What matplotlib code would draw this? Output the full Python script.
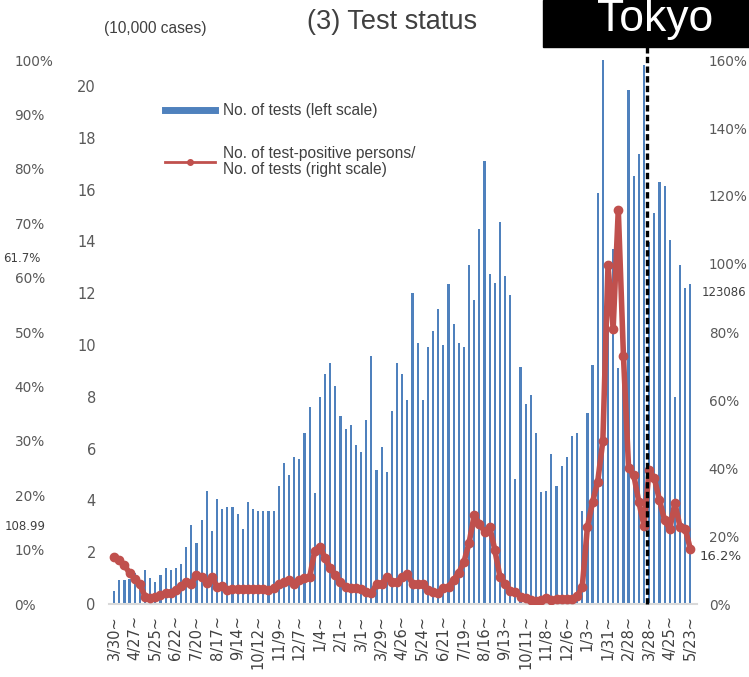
import matplotlib.pyplot as plt
from matplotlib.lines import Line2D
from matplotlib.patches import Rectangle

# week start labels (every 4 weeks), 3/30/2020 .. 5/23/2022
week_labels = ["3/30", "4/27", "5/25", "6/22", "7/20", "8/17", "9/14", "10/12", "11/9",
               "12/7", "1/4", "2/1", "3/1", "3/29", "4/26", "5/24", "6/21", "7/19",
               "8/16", "9/13", "10/11", "11/8", "12/6", "1/3", "1/31", "2/28", "3/28",
               "4/25", "5/23"]

# no. of tests per week (10,000 cases)
tests = [0.50, 0.94, 0.92, 0.95, 1.21, 0.89, 1.30, 1.02, 0.86, 1.12,
         1.38, 1.30, 1.38, 1.56, 2.19, 3.06, 2.35, 3.24, 4.37, 2.80,
         4.05, 3.67, 3.75, 3.75, 3.49, 2.89, 3.92, 3.67, 3.60, 3.60,
         3.60, 3.60, 4.55, 5.43, 4.99, 5.69, 5.60, 6.59, 7.62, 4.29,
         8.00, 8.86, 9.30, 8.43, 7.27, 6.76, 6.92, 6.15, 5.88, 7.10,
         9.57, 5.17, 6.05, 5.08, 7.46, 9.30, 8.86, 7.88, 12.02, 10.08,
         7.88, 9.92, 10.53, 11.40, 10.00, 12.37, 10.79, 10.08, 9.92, 13.08,
         11.75, 14.49, 17.11, 12.73, 12.39, 14.75, 12.65, 11.94, 4.82, 9.14,
         7.72, 8.05, 6.59, 4.31, 4.37, 5.79, 4.56, 5.34, 5.69, 6.50,
         6.59, 3.60, 7.36, 9.21, 15.87, 21.00, 12.50, 13.70, 9.10, 8.50,
         19.85, 16.52, 17.39, 20.81, 13.98, 15.10, 16.30, 16.14, 14.04, 7.98,
         13.08, 12.20, 12.37]

# positive rate (%)
pos_rate = [13.9, 12.9, 11.5, 9.0, 7.4, 5.9, 2.2, 1.7, 2.2, 2.6,
            3.1, 3.3, 4.1, 5.3, 6.5, 6.0, 8.5, 8.0, 6.2, 8.0,
            5.1, 5.3, 4.1, 4.3, 4.3, 4.3, 4.3, 4.3, 4.3, 4.3,
            4.1, 4.6, 5.9, 6.5, 7.2, 6.0, 7.2, 7.6, 7.8, 15.7,
            16.9, 13.5, 10.5, 8.5, 6.5, 4.9, 4.6, 4.6, 4.3, 3.6,
            3.1, 5.9, 5.9, 7.8, 6.5, 6.5, 8.0, 8.8, 5.9, 5.9,
            5.9, 4.1, 3.6, 3.3, 4.6, 5.1, 7.1, 9.2, 12.4, 18.0,
            26.2, 23.5, 21.3, 22.7, 15.9, 8.0, 6.0, 3.9, 3.5, 2.2,
            1.7, 1.2, 1.0, 1.2, 1.7, 1.2, 1.4, 1.4, 1.4, 1.4,
            2.3, 5.1, 22.7, 30.0, 36.0, 48.0, 99.7, 81.0, 116.0, 73.0,
            40.0, 38.0, 30.0, 23.0, 39.5, 37.0, 30.6, 24.7, 22.0, 29.7,
            22.7, 22.2, 16.2]

emergency_end = 103.5  # week position of the dashed line

blue = "#4F81BD"
red = "#C0504D"
grey = "#595959"

fig = plt.figure(figsize=(7.49, 6.77), dpi=100)
ax = fig.add_axes([109 / 749, 1 - 604 / 677, (697 - 109) / 749, (604 - 60) / 677])
x = list(range(len(tests)))

ax.bar(x, tests, width=0.42, color=blue, zorder=2)
ax.set_xlim(-1, 113.3)
ax.set_ylim(0, 21)
ax.set_yticks(range(0, 21, 2))
ax.tick_params(axis="y", length=0, pad=9.5, labelsize=10.5, labelcolor=grey)
ax.set_xticks(range(0, len(tests), 4))
ax.set_xticklabels([w + "~" for w in week_labels], rotation=90, fontsize=10.5, color="#404040")
ax.tick_params(axis="x", length=0, pad=8)
for s in ["top", "right", "left"]:
    ax.spines[s].set_visible(False)
ax.spines["bottom"].set_color("#D9D9D9")
ax.spines["bottom"].set_linewidth(1.5)

# right scale: positive rate
ax2 = ax.twinx()
ax2.plot(x, pos_rate, color=red, lw=4, marker="o", ms=6, zorder=3)
ax2.set_ylim(0, 160)
ax2.set_yticks(range(0, 161, 20))
ax2.set_yticklabels([f"{v}%" for v in range(0, 161, 20)])
ax2.tick_params(axis="y", length=0, pad=8.5, labelsize=9.8, labelcolor=grey)
ax2.axvline(emergency_end, ymin=0, ymax=1.025, color="black", lw=2.4,
            ls=(0, (1.9, 1.0)), clip_on=False, zorder=5)
for s in ax2.spines.values():
    s.set_visible(False)

# outer left percent scale
ax3 = ax.twinx()
ax3.set_ylim(0, 100)
ax3.yaxis.set_ticks_position("left")
ax3.set_yticks(range(0, 101, 10))
ax3.set_yticklabels([f"{v}%" for v in range(0, 101, 10)])
ax3.tick_params(axis="y", length=0, pad=68, labelsize=9.8, labelcolor=grey)
for lab in ax3.get_yticklabels():
    lab.set_ha("left")
for s in ax3.spines.values():
    s.set_visible(False)

# legend
handles = [Line2D([], [], color=blue, lw=5),
           Line2D([], [], color=red, lw=2, marker="o", ms=4)]
labels = ["No. of tests (left scale)",
          "No. of test-positive persons/\nNo. of tests (right scale)"]
leg = fig.legend(handles, labels, loc="upper left", bbox_to_anchor=(165 / 749, 1 - 103 / 677),
                 frameon=False, borderpad=0, borderaxespad=0, handlelength=3.2,
                 handletextpad=0.55, labelspacing=1.8,
                 prop={"family": "Liberation Sans", "size": 11.2}, labelcolor="#404040")
for t in leg.get_texts():
    t.set_linespacing(1.05)

# titles
fig.text(392 / 749, 1 - 22 / 677, "(3) Test status", ha="center", va="center",
         fontsize=19.5, color="#404040", family="Liberation Sans")
fig.text(155 / 749, 1 - 28 / 677, "(10,000 cases)", ha="center", va="center",
         fontsize=11.2, color="#404040", family="Liberation Sans")
fig.patches.append(Rectangle((543 / 749, 1 - 47 / 677), 206 / 749, 47 / 677,
                             transform=fig.transFigure, color="black"))
fig.text(655 / 749, 1 - 31 / 677, "Tokyo", ha="center", va="baseline",
         fontsize=32, color="white", family="Liberation Sans")

# side notes
fig.text(3 / 749, 1 - 258 / 677, "61.7%", ha="left", va="center", fontsize=8.5, color="#404040")
fig.text(5 / 749, 1 - 527 / 677, "108.99", ha="left", va="center", fontsize=8.5, color="#404040")
fig.text(702 / 749, 1 - 292 / 677, "123086", ha="left", va="center", fontsize=8.5, color="#404040")
fig.text(700 / 749, 1 - 557 / 677, "16.2%", ha="left", va="center", fontsize=9.5, color="#404040")

fig.savefig("out.png", dpi=100)
